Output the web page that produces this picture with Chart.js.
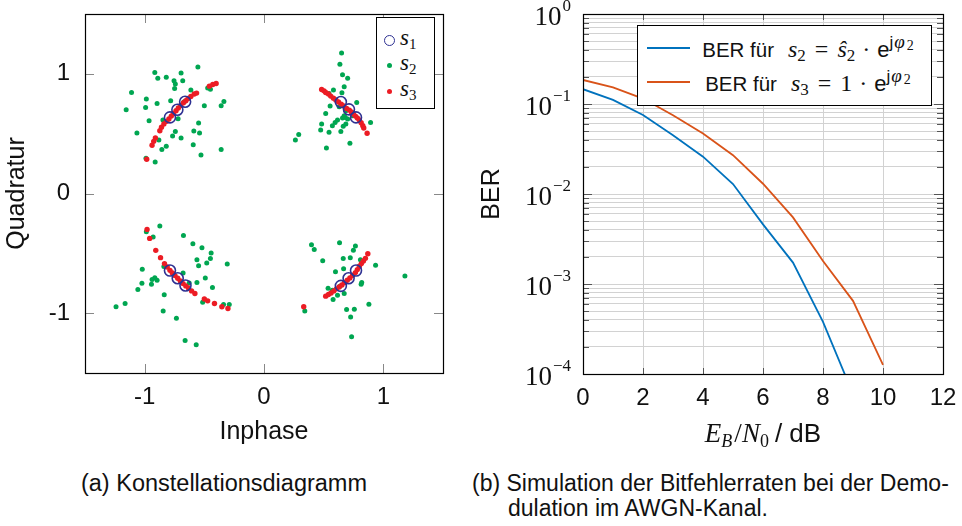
<!DOCTYPE html>
<html><head><meta charset="utf-8">
<script src="https://cdn.jsdelivr.net/npm/chart.js@4.4.1/dist/chart.umd.min.js"></script>
<style>
html,body{margin:0;padding:0;background:#fff;}
body{width:962px;height:526px;position:relative;overflow:hidden;font-family:'Liberation Sans',Arial,sans-serif;color:#111;}
canvas{position:absolute;top:0;}
#c1{left:0;} #c2{left:470px;}
.abs{position:absolute;white-space:nowrap;}
.serif{font-family:'Liberation Serif','Times New Roman',serif;}
.sans{font-family:'Liberation Sans',Arial,sans-serif;}
.sub{position:relative;font-style:normal;}
.box{border:1px solid #000;box-sizing:border-box;background:#fff;}
</style></head><body>
<canvas id="c1" width="460" height="460"></canvas>
<canvas id="c2" width="492" height="460"></canvas>

<!-- legend (a) -->
<div class="abs box" style="left:376px;top:17px;width:59px;height:92px;"></div>
<div class="abs" style="left:383.5px;top:35px;width:11px;height:11px;border:1.6px solid #2e3192;border-radius:50%;box-sizing:border-box;"></div>
<div class="abs" style="left:386.5px;top:63px;width:5px;height:5px;background:#00a651;border-radius:50%;"></div>
<div class="abs" style="left:386.5px;top:88.5px;width:5px;height:5px;background:#ec1c24;border-radius:50%;"></div>
<div class="abs serif" style="left:400px;top:25px;font-size:23px;line-height:26px;"><i>s</i><span class="sub" style="font-size:15px;top:4px;">1</span></div>
<div class="abs serif" style="left:400px;top:50px;font-size:23px;line-height:26px;"><i>s</i><span class="sub" style="font-size:15px;top:4px;">2</span></div>
<div class="abs serif" style="left:400px;top:76px;font-size:23px;line-height:26px;"><i>s</i><span class="sub" style="font-size:15px;top:4px;">3</span></div>

<!-- legend (b) -->
<div class="abs box" style="left:637px;top:25px;width:295px;height:81px;"></div>
<div class="abs" style="left:647px;top:47px;width:43px;height:2px;background:#0072bd;"></div>
<div class="abs" style="left:647px;top:81px;width:43px;height:2px;background:#d95319;"></div>
<div class="abs" style="left:691px;top:36px;width:234px;text-align:center;line-height:26px;">
 <span class="sans" style="font-size:20.5px;">BER für</span><i class="serif" style="font-size:24px;margin-left:14px;">s</i><span class="sub serif" style="font-size:17px;top:4px;">2</span><span class="serif" style="font-size:24px;margin:0 9px;">=</span><i class="serif" style="font-size:24px;">ŝ</i><span class="sub serif" style="font-size:17px;top:4px;">2</span><span class="serif" style="font-size:24px;margin:0 7px;">·</span><span class="sans" style="font-size:22px;">e</span><span class="sub" style="top:-9px;"><span class="sans" style="font-size:17px;">j</span><i class="serif" style="font-size:19px;margin-left:1px;">φ</i><span class="sub serif" style="font-size:14px;top:2px;margin-left:2px;">2</span></span>
</div>
<div class="abs" style="left:691px;top:70px;width:234px;text-align:center;line-height:26px;">
 <span class="sans" style="font-size:20.5px;">BER für</span><i class="serif" style="font-size:24px;margin-left:14px;">s</i><span class="sub serif" style="font-size:17px;top:4px;">3</span><span class="serif" style="font-size:24px;margin:0 9px;">=</span><span class="serif" style="font-size:24px;">1</span><span class="serif" style="font-size:24px;margin:0 7px;">·</span><span class="sans" style="font-size:22px;">e</span><span class="sub" style="top:-9px;"><span class="sans" style="font-size:17px;">j</span><i class="serif" style="font-size:19px;margin-left:1px;">φ</i><span class="sub serif" style="font-size:14px;top:2px;margin-left:2px;">2</span></span>
</div>

<!-- x title (b) -->
<div class="abs serif" style="left:583px;top:418px;width:360px;text-align:center;font-size:27px;line-height:30px;">
 <i>E</i><i class="sub" style="font-size:18px;top:5px;font-style:italic;">B</i><span style="margin-left:2px;">/</span><i>N</i><span class="sub" style="font-size:18px;top:5px;">0</span><span class="sans" style="font-size:26px;margin-left:6px;">/ dB</span>
</div>

<!-- captions -->
<div class="abs sans" style="left:24px;top:471px;width:400px;text-align:center;font-size:23.5px;line-height:25px;">(a) Konstellationsdiagramm</div>
<div class="abs sans" style="left:472px;top:471px;font-size:23px;line-height:25px;padding-left:36px;text-indent:-36px;">(b) Simulation der Bitfehlerraten bei der Demo-<br>dulation im AWGN-Kanal.</div>

<script>
// ---------- data (a) constellation ----------
const iqTicks = [-1, 0, 1];
const s1Points = [
 [-0.788,0.636],[-0.726,0.700],[-0.661,0.767],
 [0.644,0.764],[0.712,0.703],[0.771,0.636],
 [-0.788,-0.644],[-0.723,-0.708],[-0.658,-0.769],
 [0.644,-0.772],[0.709,-0.708],[0.771,-0.644]
];
const s2Points = [
 // upper left
 [-0.554,1.058],[-0.915,1.011],[-0.890,0.964],[-0.819,0.972],[-0.695,1.008],[-0.754,0.942],[-0.681,0.942],[-0.743,0.914],
 [-0.749,0.878],[-0.472,0.881],[-0.449,0.872],[-1.110,0.844],[-0.613,0.864],[-0.986,0.789],[-0.896,0.753],[-0.782,0.775],
 [-0.669,0.767],[-0.500,0.733],[-0.336,0.769],[-0.359,0.733],[-0.992,0.719],[-1.155,0.700],[-0.963,0.608],[-0.847,0.614],
 [-0.720,0.625],[-0.548,0.589],[-1.065,0.506],[-0.743,0.519],[-0.766,0.481],[-0.695,0.464],[-0.588,0.522],[-0.540,0.506],
 [-0.881,0.447],[-0.819,0.394],[-0.856,0.367],[-0.593,0.408],[-0.359,0.367],[-0.528,0.322],[-0.989,0.294],[-0.912,0.264],
 // upper right
 [0.650,1.175],[0.636,1.081],[0.658,0.992],[0.701,0.964],[0.672,0.892],[0.582,0.864],[0.653,0.842],[0.545,0.836],
 [0.777,0.761],[0.554,0.731],[0.630,0.725],[0.686,0.692],[0.517,0.669],[0.672,0.650],[0.743,0.650],[0.701,0.622],
 [0.616,0.614],[0.596,0.594],[0.483,0.581],[0.686,0.581],[0.893,0.594],[0.573,0.567],[0.664,0.561],[0.475,0.531],
 [0.545,0.511],[0.644,0.519],[0.291,0.492],[0.263,0.447],[0.523,0.381],[0.720,0.419],[0.681,0.636],[0.658,0.631],
 // lower left
 [-0.873,-0.272],[-0.986,-0.319],[-0.929,-0.364],[-0.675,-0.350],[-0.596,-0.419],[-0.520,-0.453],[-0.443,-0.497],[-0.562,-0.553],
 [-0.449,-0.544],[-0.480,-0.581],[-0.548,-0.603],[-0.308,-0.589],[-0.839,-0.611],[-1.020,-0.633],[-0.678,-0.664],[-0.492,-0.706],
 [-0.915,-0.703],[-0.938,-0.719],[-0.896,-0.725],[-0.562,-0.744],[-1.023,-0.750],[-0.627,-0.747],[-0.943,-0.758],[-1.057,-0.803],
 [-0.432,-0.786],[-0.836,-0.847],[-0.514,-0.908],[-0.339,-0.928],[-0.291,-0.928],[-1.164,-0.919],[-1.240,-0.947],[-0.845,-0.981],
 [-0.734,-1.042],[-0.661,-1.228],[-0.568,-1.264],
 // lower right
 [0.398,-0.428],[0.421,-0.469],[0.633,-0.411],[0.766,-0.439],[0.749,-0.475],[0.492,-0.561],[0.664,-0.544],[0.723,-0.536],
 [0.808,-0.553],[0.935,-0.600],[0.599,-0.653],[0.667,-0.628],[1.181,-0.689],[0.819,-0.744],[0.814,-0.758],[0.537,-0.792],
 [0.573,-0.808],[0.616,-0.850],[0.672,-0.836],[0.636,-0.775],[0.579,-0.886],[0.879,-0.925],[0.692,-0.969],[0.757,-0.967],
 [0.726,-1.033],[0.342,-0.981],[0.734,-1.197]
];
const s3Points = [
 // upper left
 [-0.983,0.286],[-0.938,0.403],[-0.924,0.436],[-0.910,0.464],[-0.873,0.525],[-0.859,0.553],[-0.839,0.581],[-0.816,0.603],
 [-0.797,0.622],[-0.777,0.647],[-0.760,0.669],[-0.737,0.692],[-0.718,0.714],[-0.698,0.736],[-0.675,0.758],[-0.655,0.775],
 [-0.636,0.794],[-0.613,0.811],[-0.585,0.831],[-0.565,0.839],[-0.458,0.897],[-0.429,0.911],[-0.401,0.919],
 // upper right
 [0.483,0.869],[0.503,0.858],[0.517,0.844],[0.540,0.831],[0.559,0.814],[0.582,0.797],[0.602,0.781],[0.624,0.764],
 [0.647,0.747],[0.669,0.731],[0.692,0.711],[0.715,0.697],[0.732,0.681],[0.749,0.664],[0.766,0.647],[0.782,0.631],
 [0.799,0.614],[0.814,0.592],[0.828,0.567],[0.836,0.547],[0.864,0.503],
 // lower left
 [-0.980,-0.300],[-0.958,-0.375],[-0.907,-0.475],[-0.867,-0.536],[-0.834,-0.586],[-0.811,-0.614],[-0.788,-0.642],[-0.768,-0.664],
 [-0.746,-0.686],[-0.723,-0.708],[-0.701,-0.731],[-0.678,-0.753],[-0.655,-0.772],[-0.633,-0.789],[-0.607,-0.814],[-0.579,-0.836],
 [-0.500,-0.881],[-0.472,-0.897],[-0.415,-0.919],[-0.353,-0.947],[-0.302,-0.961],
 // lower right
 [0.333,-0.947],[0.517,-0.858],[0.540,-0.844],[0.562,-0.831],[0.585,-0.814],[0.607,-0.797],[0.630,-0.781],[0.653,-0.764],
 [0.675,-0.744],[0.698,-0.725],[0.720,-0.706],[0.743,-0.683],[0.766,-0.661],[0.782,-0.636],[0.799,-0.608],[0.816,-0.586],
 [0.833,-0.564],[0.850,-0.542],[0.870,-0.503]
];

// ---------- data (b) BER ----------
const ebnoDb = [0, 1, 2, 3, 4, 5, 6, 7, 8, 9, 10];
const berS2 = [0.146, 0.111, 0.0755, 0.045, 0.026, 0.0129, 0.0046, 0.00173, 0.00038, 0.00006];
const berS3 = [0.185, 0.153, 0.115, 0.075, 0.047, 0.027, 0.013, 0.0055, 0.0018, 0.00065, 0.000126];
const ebnoTicks = [0, 2, 4, 6, 8, 10, 12];
const berDecades = [1, 0.1, 0.01, 0.001, 0.0001];
const berDecadeExps = ['0', '\u22121', '\u22122', '\u22123', '\u22124'];
const berMinorSteps = [1, 2, 3, 4, 5, 6, 7, 8, 9];

const SANS = "'Liberation Sans', Arial, sans-serif";
const SERIF = "'Liberation Serif', 'Times New Roman', serif";

function noPad(s) { s.paddingTop = 0; s.paddingBottom = 0; s.paddingLeft = 0; s.paddingRight = 0; }

function frameTicksPlugin(len, color, majorLen) {
  return {
    id: 'frameTicks',
    afterDraw(chart) {
      const {ctx, chartArea: a, scales} = chart;
      ctx.save();
      ctx.strokeStyle = color;
      ctx.lineWidth = 1;
      ctx.beginPath();
      scales.x.ticks.forEach(t => {
        const px = Math.round(scales.x.getPixelForValue(t.value)) + 0.5;
        ctx.moveTo(px, a.bottom); ctx.lineTo(px, a.bottom - len);
        ctx.moveTo(px, a.top); ctx.lineTo(px, a.top + len);
      });
      scales.y.ticks.forEach(t => {
        const py = Math.round(scales.y.getPixelForValue(t.value)) + 0.5;
        const L = (majorLen && t.major) ? majorLen : len;
        ctx.moveTo(a.left, py); ctx.lineTo(a.left + L, py);
        ctx.moveTo(a.right, py); ctx.lineTo(a.right - L, py);
      });
      ctx.stroke();
      ctx.strokeStyle = '#000';
      ctx.lineWidth = 1.2;
      ctx.strokeRect(Math.round(a.left) + 0.5, Math.round(a.top) + 0.5,
                     Math.round(a.right - a.left), Math.round(a.bottom - a.top));
      ctx.restore();
    }
  };
}

const toXY = arr => arr.map(p => ({x: p[0], y: p[1]}));

new Chart(document.getElementById('c1'), {
  type: 'scatter',
  data: {
    datasets: [
      {label: 's1', data: toXY(s1Points), pointStyle: 'circle', pointRadius: 5.5, pointBorderWidth: 1.6,
       pointBorderColor: '#2e3192', pointBackgroundColor: 'rgba(0,0,0,0)'},
      {label: 's3', data: toXY(s3Points), pointRadius: 2.7, pointBorderWidth: 0,
       pointBackgroundColor: '#ec1c24', pointBorderColor: '#ec1c24'},
      {label: 's2', data: toXY(s2Points), pointRadius: 2.5, pointBorderWidth: 0,
       pointBackgroundColor: '#00a651', pointBorderColor: '#00a651'}
    ]
  },
  options: {
    responsive: false, animation: false,
    layout: {padding: {left: 0, top: 14, right: 17, bottom: 0}},
    plugins: {legend: {display: false}, tooltip: {enabled: false}},
    scales: {
      x: {
        type: 'linear', min: -1.5, max: 1.5,
        afterBuildTicks: s => { s.ticks = iqTicks.map(v => ({value: v})); },
        afterFit: s => { s.height = 87; noPad(s); },
        grid: {display: false, drawTicks: false}, border: {display: false},
        ticks: {font: {family: SANS, size: 24}, color: '#111', padding: 10},
        title: {display: true, text: 'Inphase', color: '#111', font: {family: SANS, size: 25}, padding: {top: 0, bottom: 13}}
      },
      y: {
        type: 'linear', min: -1.5, max: 1.5,
        afterBuildTicks: s => { s.ticks = iqTicks.map(v => ({value: v})); },
        afterFit: s => { s.width = 85; noPad(s); },
        grid: {display: false, drawTicks: false}, border: {display: false},
        ticks: {font: {family: SANS, size: 24}, color: '#111', padding: 15},
        title: {display: true, text: 'Quadratur', color: '#111', font: {family: SANS, size: 25}, padding: {top: 2, bottom: 0}}
      }
    }
  },
  plugins: [frameTicksPlugin(9, '#888')]
});

const yLabelsPlugin = {
  id: 'yLabels',
  afterDraw(chart) {
    const {ctx, chartArea: a, scales: {y}} = chart;
    ctx.save();
    ctx.fillStyle = '#111';
    ctx.textAlign = 'right';
    ctx.textBaseline = 'alphabetic';
    berDecades.forEach((v, i) => {
      const py = y.getPixelForValue(v);
      const xr = a.left - 12;
      ctx.font = '17px ' + SERIF;
      const exp = berDecadeExps[i];
      const w = ctx.measureText(exp).width;
      ctx.fillText(exp, xr, py - 3);
      ctx.font = '27px ' + SERIF;
      ctx.fillText('10', xr - w - 1, py + 11);
    });
    ctx.restore();
  }
};

new Chart(document.getElementById('c2'), {
  type: 'line',
  data: {
    datasets: [
      {label: 'BER s2', data: berS2.map((v, i) => ({x: ebnoDb[i], y: v})), borderColor: '#0072bd',
       borderWidth: 1.8, pointRadius: 0, tension: 0, fill: false},
      {label: 'BER s3', data: berS3.map((v, i) => ({x: ebnoDb[i], y: v})), borderColor: '#d95319',
       borderWidth: 1.8, pointRadius: 0, tension: 0, fill: false}
    ]
  },
  options: {
    responsive: false, animation: false,
    layout: {padding: {left: 0, top: 14, right: 19, bottom: 0}},
    plugins: {legend: {display: false}, tooltip: {enabled: false}},
    scales: {
      x: {
        type: 'linear', min: 0, max: 12,
        afterBuildTicks: s => { s.ticks = ebnoTicks.map(v => ({value: v})); },
        afterFit: s => { s.height = 86; noPad(s); },
        grid: {color: '#d2d2d2', lineWidth: 1, drawTicks: false}, border: {display: false},
        ticks: {font: {family: SANS, size: 24}, color: '#111', padding: 10}
      },
      y: {
        type: 'logarithmic', min: 0.0001, max: 1,
        afterBuildTicks: s => {
          const t = [];
          berDecades.slice().reverse().forEach(d => {
            if (d >= 1) { t.push({value: d, major: true}); return; }
            berMinorSteps.forEach(m => t.push({value: m * d, major: m === 1}));
          });
          s.ticks = t;
        },
        afterFit: s => { s.width = 113; noPad(s); },
        grid: {color: '#d2d2d2', lineWidth: 1, drawTicks: false}, border: {display: false},
        ticks: {display: false},
        title: {display: true, text: 'BER', color: '#111', font: {family: SANS, size: 25}, padding: {top: 7, bottom: 0}}
      }
    }
  },
  plugins: [frameTicksPlugin(6, '#555', 9), yLabelsPlugin]
});
</script>
</body></html>
